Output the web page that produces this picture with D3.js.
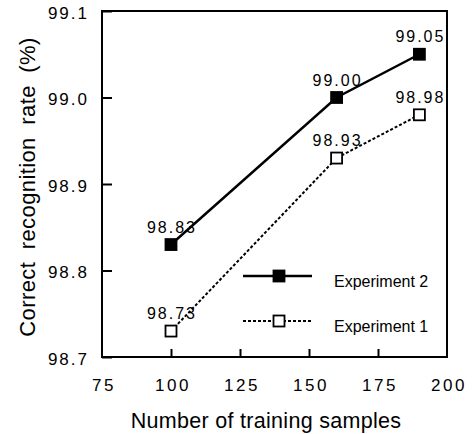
<!DOCTYPE html>
<html lang="en">
<head>
<meta charset="UTF-8">
<title>Recognition rate</title>
<script src="https://cdn.jsdelivr.net/npm/d3@7/dist/d3.min.js"></script>
<style>
  body { margin: 0; background: #fff; }
  text { font-family: "Liberation Sans", Arial, sans-serif; fill: #000; }
</style>
</head>
<body>
<div id="chart"></div>
<script>
// data
const samples = [100, 160, 190];
const exp2 = [98.83, 99.00, 99.05];
const exp1 = [98.73, 98.93, 98.98];
const xTicks = [75, 100, 125, 150, 175, 200];
const yTicks = [98.7, 98.8, 98.9, 99.0, 99.1];

const width = 474, height = 434;
const plotL = 102, plotR = 447, plotT = 11, plotB = 357;

const svg = d3.select("#chart").append("svg")
    .attr("width", width)
    .attr("height", height);

const x = d3.scaleLinear().domain([75, 200]).range([plotL, plotR]);
const y = d3.scaleLinear().domain([98.7, 99.1]).range([plotB, plotT]);

// frame
svg.append("rect")
    .attr("x", plotL).attr("y", plotT)
    .attr("width", plotR - plotL).attr("height", plotB - plotT)
    .attr("fill", "none").attr("stroke", "#000").attr("stroke-width", 2);

// y axis, ticks inward
const yAxis = svg.append("g")
    .attr("transform", `translate(${plotL},0)`)
    .call(d3.axisRight(y).tickValues(yTicks).tickSize(10).tickFormat(d3.format(".1f")));
yAxis.select(".domain").remove();
yAxis.selectAll("line").attr("stroke-width", 2);
yAxis.selectAll("text")
    .attr("x", -13).attr("dy", "0.42em").attr("text-anchor", "end")
    .style("font-size", "17px").style("letter-spacing", "2px");

// x axis, ticks inward
const xAxis = svg.append("g")
    .attr("transform", `translate(0,${plotB})`)
    .call(d3.axisTop(x).tickValues(xTicks).tickSize(8));
xAxis.select(".domain").remove();
xAxis.selectAll("line").attr("stroke-width", 2);
xAxis.selectAll(".tick").filter(d => d === 75 || d === 200).select("line").remove();
xAxis.selectAll("text")
    .attr("y", 34).attr("dy", 0).attr("dx", 1.5)
    .style("font-size", "17px").style("letter-spacing", "2.5px");

// axis titles
svg.append("text")
    .attr("x", 266).attr("y", 428)
    .attr("text-anchor", "middle")
    .style("font-size", "21.5px")
    .style("letter-spacing", "0.3px")
    .text("Number of training samples");

svg.append("text")
    .attr("transform", `translate(35,187) rotate(-90)`)
    .attr("text-anchor", "middle")
    .style("font-size", "22px")
    .style("letter-spacing", "0.4px")
    .style("word-spacing", "6px")
    .text("Correct recognition rate (%)");

const line = d3.line().x(d => x(d[0])).y(d => y(d[1]));
const series = [
  { name: "Experiment 2", values: exp2, dash: null, fill: "#000", lw: 2.5, ly: 276 },
  { name: "Experiment 1", values: exp1, dash: "3,2", fill: "#fff", lw: 2, ly: 321 }
];

const ms = 11;
series.forEach(s => {
  const pts = samples.map((v, i) => [v, s.values[i]]);
  svg.append("path")
      .attr("d", line(pts))
      .attr("fill", "none").attr("stroke", "#000")
      .attr("stroke-width", s.lw)
      .attr("stroke-dasharray", s.dash);
  svg.selectAll(null).data(pts).enter().append("rect")
      .attr("x", d => x(d[0]) - ms / 2).attr("y", d => y(d[1]) - ms / 2)
      .attr("width", ms).attr("height", ms)
      .attr("fill", s.fill).attr("stroke", "#000").attr("stroke-width", 1.8);
  svg.selectAll(null).data(pts).enter().append("text")
      .attr("x", d => x(d[0]) + 1).attr("y", d => y(d[1]) - 12)
      .attr("text-anchor", "middle")
      .style("font-size", "16px").style("letter-spacing", "2px")
      .text(d => d[1].toFixed(2));
});

// legend
const legend = svg.append("g");
series.forEach(s => {
  legend.append("line")
      .attr("x1", 243).attr("x2", 312).attr("y1", s.ly).attr("y2", s.ly)
      .attr("stroke", "#000").attr("stroke-width", s.lw)
      .attr("stroke-dasharray", s.dash);
  legend.append("rect")
      .attr("x", 279 - ms / 2).attr("y", s.ly - ms / 2)
      .attr("width", ms).attr("height", ms)
      .attr("fill", s.fill).attr("stroke", "#000").attr("stroke-width", 1.8);
  legend.append("text")
      .attr("x", 334).attr("y", s.ly + 11)
      .style("font-size", "16px")
      .text(s.name);
});
</script>
</body>
</html>
